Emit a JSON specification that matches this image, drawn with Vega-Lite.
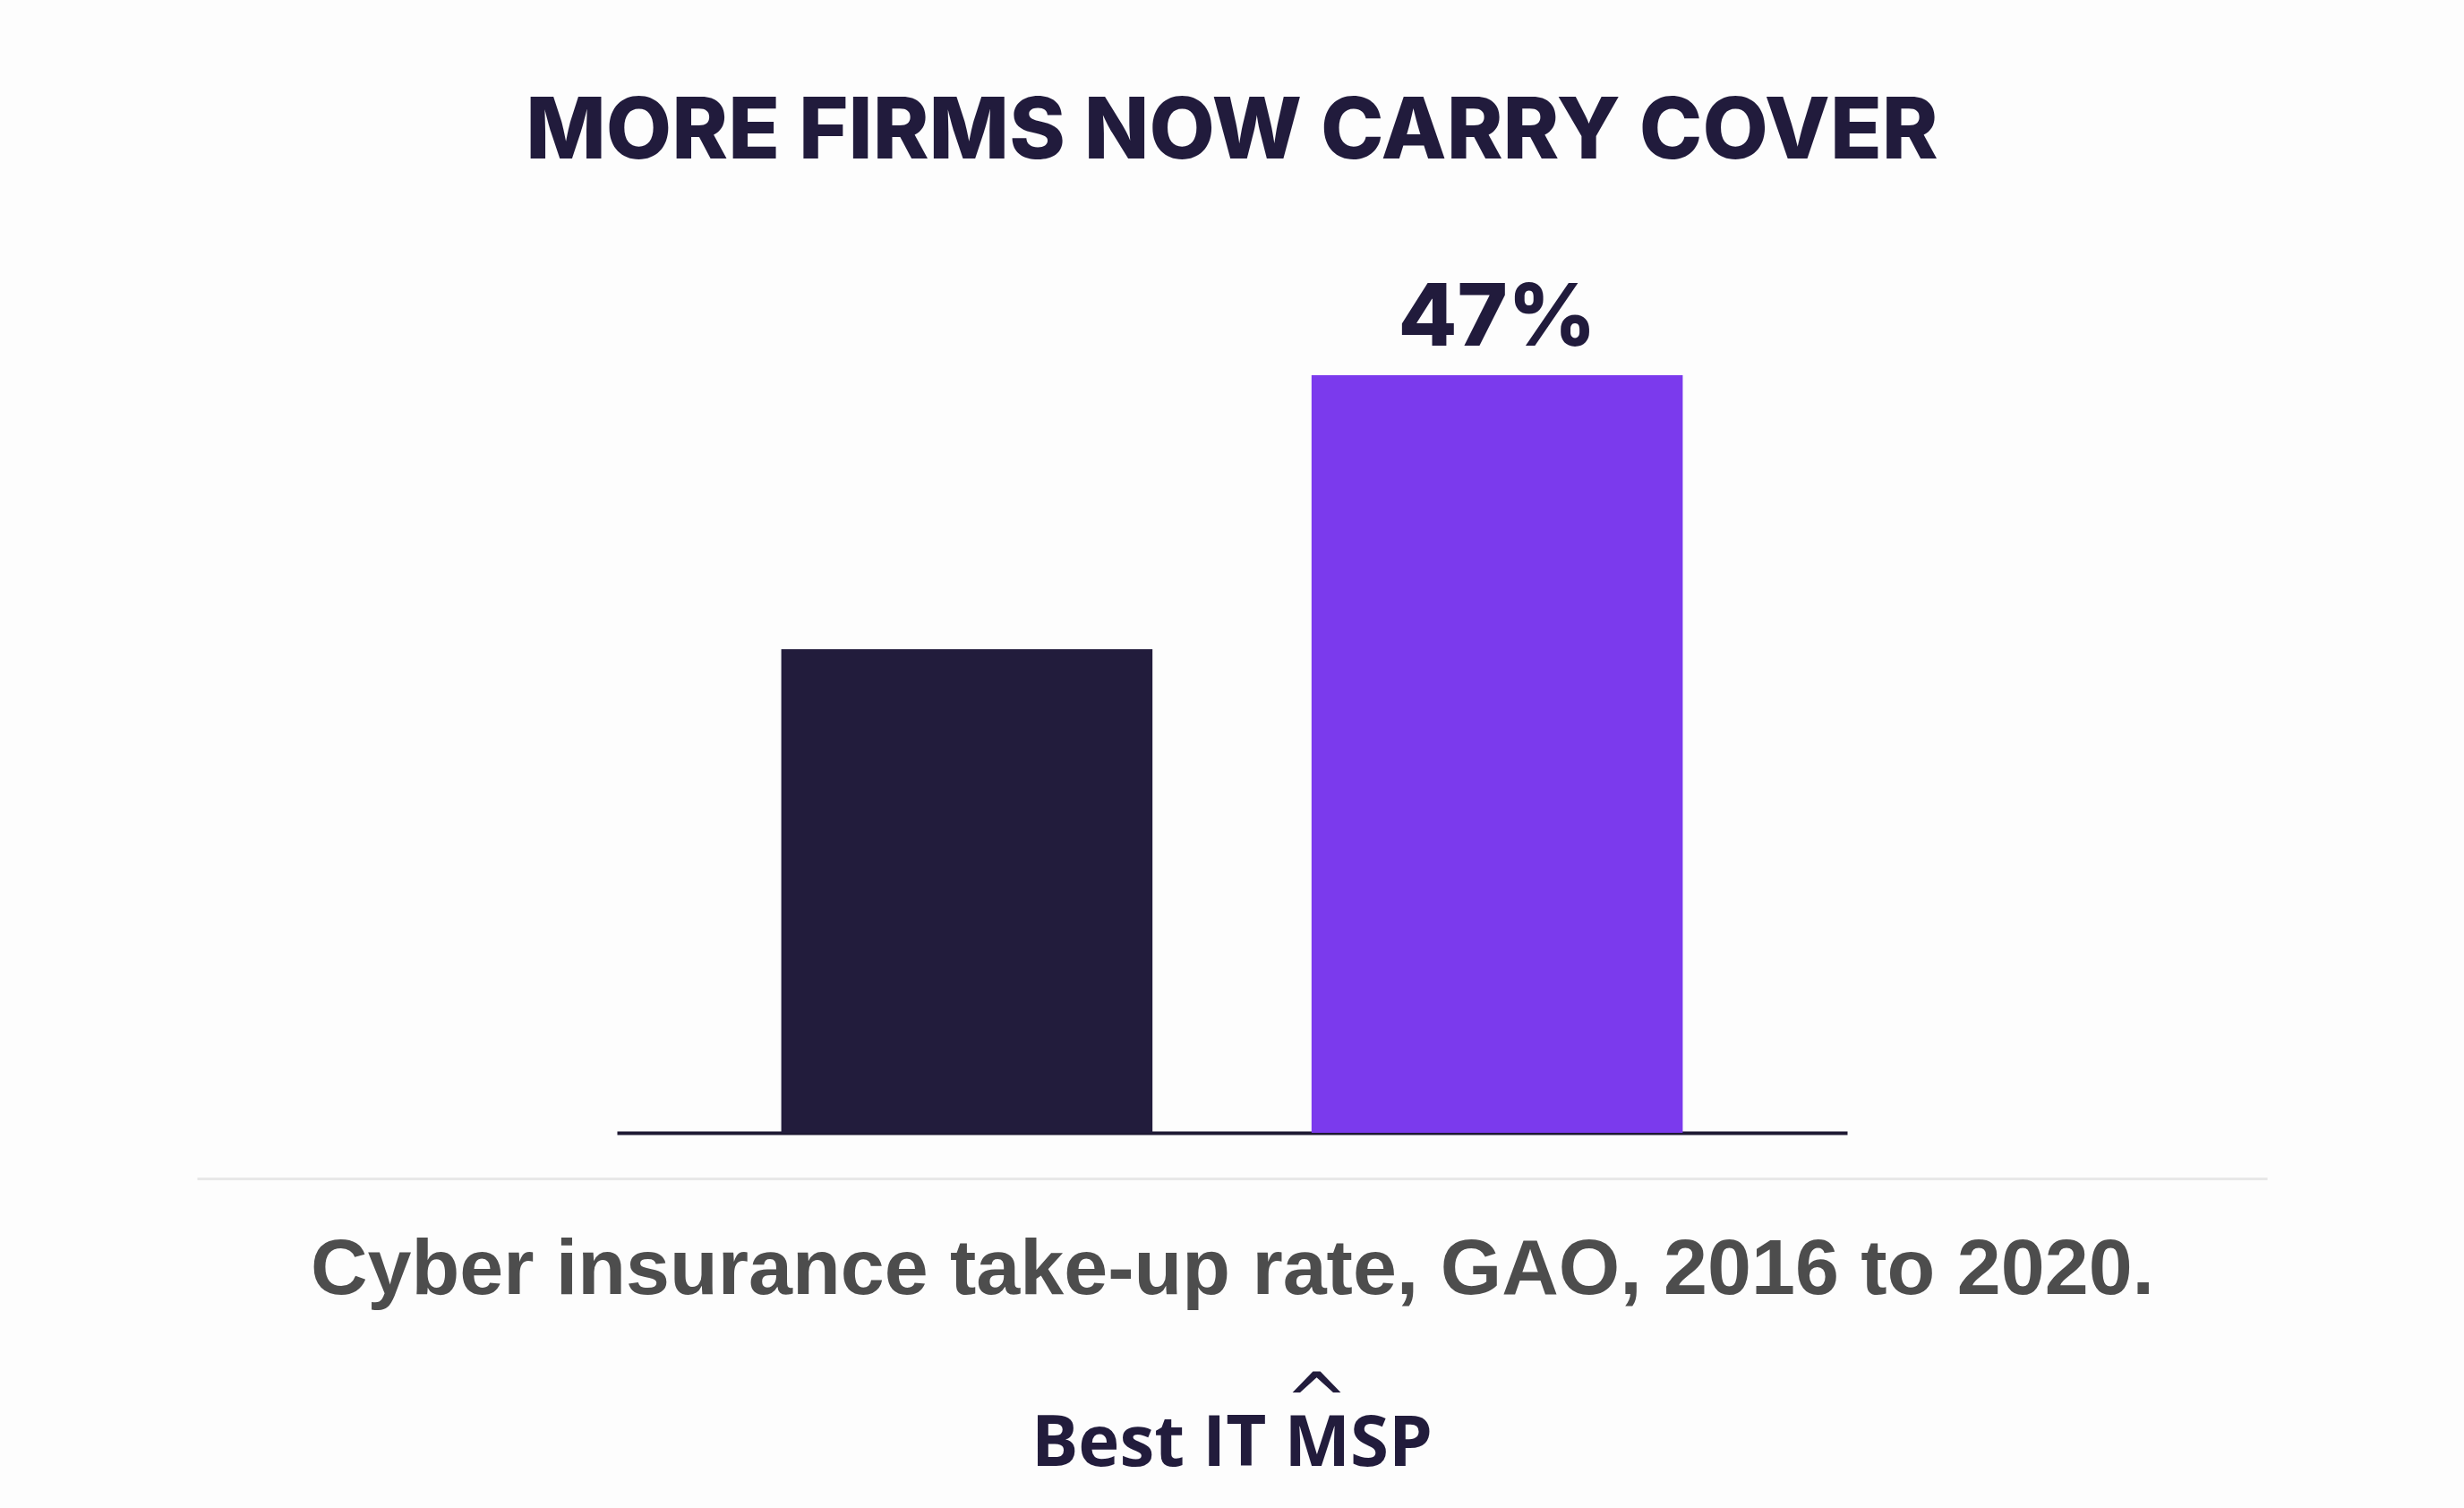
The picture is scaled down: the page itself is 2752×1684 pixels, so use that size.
{
  "$schema": "https://vega.github.io/schema/vega-lite/v6.json",
  "background": "#fdfdfd",
  "padding": 0,
  "bounds": "flush",
  "center": true,
  "spacing": 10,
  "data": {
    "values": [
      {"year": "2016", "value": 30, "label": ""},
      {"year": "2020", "value": 47, "label": "47%"}
    ]
  },
  "config": {
    "view": {"stroke": null},
    "font": "Inter"
  },
  "vconcat": [
    {
      "width": 2752,
      "height": 409,
      "mark": {"type": "point", "opacity": 0},
      "encoding": {"x": {"field": "value", "type": "quantitative", "axis": null}}
    },
    {
      "width": 1374,
      "height": 846,
      "title": {
        "text": "MORE FIRMS NOW CARRY COVER",
        "font": "Inter",
        "fontSize": 95,
        "fontWeight": 800,
        "color": "#211b3c",
        "anchor": "middle",
        "baseline": "alphabetic",
        "offset": 37
      },
      "encoding": {
        "x": {
          "field": "year",
          "type": "nominal",
          "sort": null,
          "scale": {"paddingInner": 0.3, "paddingOuter": 0.31},
          "axis": {
            "title": null,
            "labels": false,
            "ticks": false,
            "domainColor": "#1e1933",
            "domainWidth": 4
          }
        },
        "y": {
          "field": "value",
          "type": "quantitative",
          "scale": {"domain": [0, 47], "nice": false},
          "axis": null
        }
      },
      "layer": [
        {
          "mark": {"type": "bar"},
          "encoding": {
            "color": {
              "field": "year",
              "type": "nominal",
              "scale": {"domain": ["2016", "2020"], "range": ["#221c3c", "#7b3aed"]},
              "legend": null
            }
          }
        },
        {
          "mark": {
            "type": "text",
            "baseline": "alphabetic",
            "dy": -33,
            "fontSize": 96,
            "fontWeight": 800,
            "color": "#211b3c"
          },
          "encoding": {"text": {"field": "label"}}
        }
      ]
    },
    {
      "width": 2312,
      "height": 41,
      "mark": {"type": "point", "opacity": 0},
      "encoding": {
        "x": {
          "field": "value",
          "type": "quantitative",
          "axis": {
            "title": "Cyber insurance take-up rate, GAO, 2016 to 2020.",
            "titleFont": "Liberation Sans",
            "titleFontSize": 88,
            "titleFontWeight": "bold",
            "titleColor": "#4d4d4d",
            "titleBaseline": "alphabetic",
            "titlePadding": 128,
            "labels": false,
            "ticks": false,
            "grid": false,
            "domainColor": "#e8e8e8",
            "domainWidth": 3
          }
        }
      }
    },
    {
      "width": 2312,
      "height": 199,
      "title": {
        "text": "Best IT MSP",
        "orient": "bottom",
        "font": "Open Sans",
        "fontSize": 78,
        "fontWeight": "bold",
        "color": "#221c3c",
        "anchor": "middle",
        "baseline": "alphabetic",
        "offset": 27
      },
      "mark": {"type": "point", "opacity": 0},
      "encoding": {
        "x": {
          "field": "value",
          "type": "quantitative",
          "axis": {
            "title": "^",
            "titleFont": "DejaVu Sans",
            "titleFontSize": 86,
            "titleFontWeight": "normal",
            "titleColor": "#221c3c",
            "titleX": 1250,
            "titleBaseline": "top",
            "titlePadding": 0,
            "labels": false,
            "ticks": false,
            "grid": false,
            "domain": false
          }
        }
      }
    },
    {
      "width": 2752,
      "height": 149,
      "mark": {"type": "point", "opacity": 0},
      "encoding": {"x": {"field": "value", "type": "quantitative", "axis": null}}
    }
  ]
}
